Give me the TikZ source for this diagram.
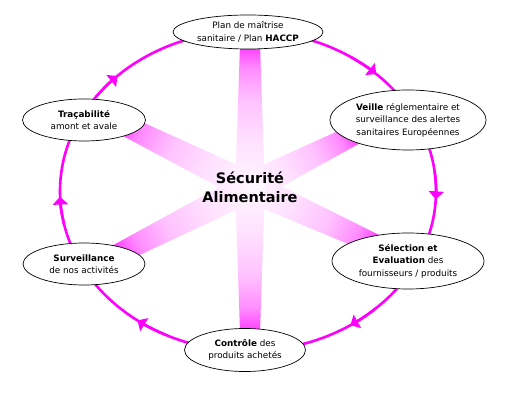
\documentclass[tikz,border=0pt]{standalone}
\usepackage{fontspec}
\setmainfont{DejaVu Sans}
\usetikzlibrary{shapes.geometric,arrows.meta,calc}

\definecolor{rose}{RGB}{255,0,255}
\pgfdeclarehorizontalshading{spokefade}{100bp}{
  color(0bp)=(rose!3); color(25bp)=(rose!3); color(42bp)=(rose!12);
  color(56bp)=(rose!24); color(67bp)=(rose!45); color(75bp)=(rose!78);
  color(100bp)=(rose!78)}

\begin{document}
\begin{tikzpicture}
  [
    x=1pt, y=1pt,
    stepnode/.style =
      {draw, ellipse, fill=white, align=center, inner sep=0pt,
       line width=0.7pt, font=\fontsize{8.8}{12.5}\selectfont},
    ring/.style  = {draw=rose, line width=2.6pt},
    spoke/.style = {shading=spokefade, shading angle=0}
  ]
  \useasboundingbox (0,0) rectangle (510,401);

  \coordinate (O) at (248,210);
  \coordinate (hub) at (250,214);

  % spokes from the centre to each step
  \foreach \a/\l in {90/142, 26.6/120, -24.6/140, -90/145, 206.9/150, 153.8/145}
  {
    \begin{scope}[transform canvas={shift={(hub)}, rotate=\a}]
      \shade[spoke] (-4,15) -- (\l,10) -- (\l,-10) -- (-4,-15) -- cycle;
    \end{scope}
  }

  % the cycle
  \draw[ring] (O) ellipse [x radius=188, y radius=160];
  \foreach \t in {47,-3,-57,-126,182,134}
    \draw[ring, -{Triangle[width=15pt,length=8pt]}]
      ($(O)+(\t+10:188pt and 160pt)$)
      arc [start angle=\t+10, end angle=\t, x radius=188, y radius=160];

  \node [stepnode, minimum width=150, minimum height=34] at (248,369) (plan)
        {Plan de maîtrise\\sanitaire / Plan \textbf{HACCP}};
  \node [stepnode, minimum width=156, minimum height=60] at (408,281) (veille)
        {\textbf{Veille} réglementaire et\\surveillance des alertes\\sanitaires Européennes};
  \node [stepnode, minimum width=152, minimum height=56] at (408,140) (select)
        {\textbf{Sélection et}\\\textbf{Evaluation} des\\fournisseurs / produits};
  \node [stepnode, minimum width=121, minimum height=43] at (245,51) (controle)
        {\textbf{Contrôle} des\\produits achetés};
  \node [stepnode, minimum width=122, minimum height=42] at (84,137) (surv)
        {\textbf{Surveillance}\\de nos activités};
  \node [stepnode, minimum width=123, minimum height=42] at (84,281) (trace)
        {\textbf{Traçabilité}\\amont et avale};

  \node [font=\fontsize{14.5}{19}\selectfont\bfseries, align=center]
        at (hub) (secu) {Sécurité\\Alimentaire};
\end{tikzpicture}
\end{document}
